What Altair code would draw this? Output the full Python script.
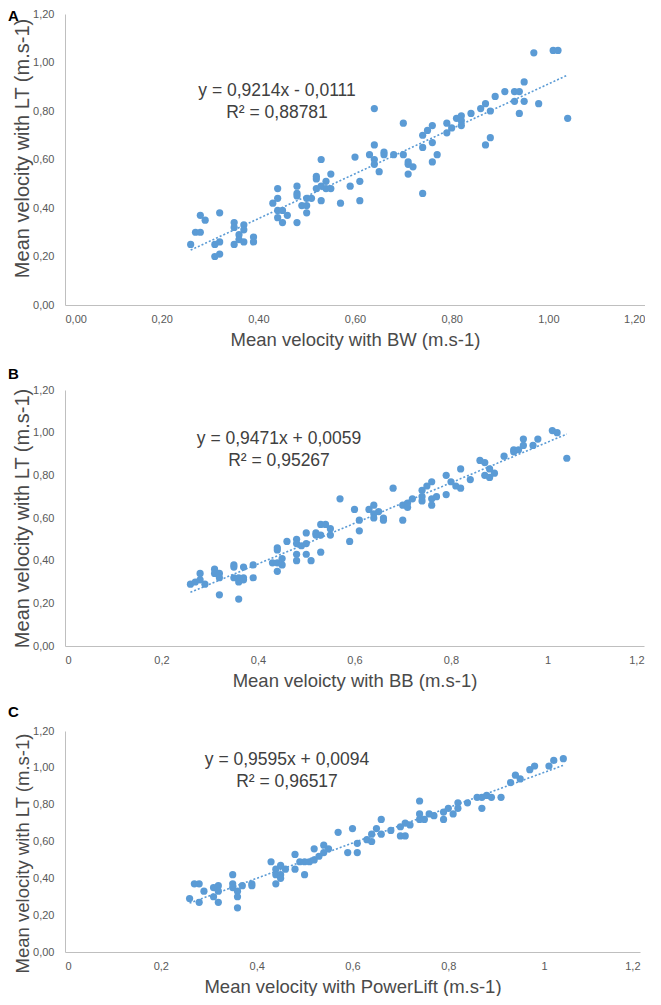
import altair as alt
import pandas as pd

BLUE = "#5B9BD5"
GREY = "#595959"
TITLE_GREY = "#4a4a4a"

# ---------------- Panel A: BW vs LT ----------------
a_x = [0.26, 0.27, 0.28, 0.28, 0.29, 0.31, 0.32, 0.31, 0.32, 0.32,
       0.35, 0.35, 0.35, 0.36, 0.36, 0.37, 0.37, 0.37, 0.39, 0.39,
       0.43, 0.44, 0.44, 0.44, 0.44, 0.45, 0.45, 0.46, 0.48, 0.48,
       0.48, 0.48, 0.49, 0.50, 0.50, 0.50, 0.51, 0.52, 0.52, 0.52,
       0.53, 0.53, 0.53, 0.54, 0.54, 0.55, 0.55, 0.57, 0.59, 0.60,
       0.61, 0.61, 0.63, 0.64, 0.64, 0.64, 0.64, 0.65, 0.66, 0.66,
       0.68, 0.70, 0.70, 0.71, 0.71, 0.71, 0.72, 0.74, 0.74, 0.74,
       0.75, 0.76, 0.76, 0.76, 0.77, 0.79, 0.79, 0.80, 0.81, 0.82,
       0.82, 0.82, 0.84, 0.86, 0.87, 0.87, 0.88, 0.88, 0.89, 0.91,
       0.93, 0.93, 0.94, 0.94, 0.95, 0.95, 0.97, 0.98, 1.01, 1.02,
       1.04]
a_y = [0.25, 0.30, 0.30, 0.37, 0.35, 0.20, 0.21, 0.25, 0.26, 0.38,
       0.34, 0.32, 0.25, 0.29, 0.27, 0.33, 0.31, 0.26, 0.28, 0.26,
       0.42, 0.48, 0.44, 0.39, 0.36, 0.39, 0.34, 0.37, 0.49, 0.46,
       0.45, 0.34, 0.41, 0.44, 0.41, 0.38, 0.44, 0.53, 0.52, 0.48,
       0.60, 0.49, 0.43, 0.51, 0.48, 0.54, 0.48, 0.42, 0.49, 0.61,
       0.51, 0.43, 0.62, 0.81, 0.66, 0.60, 0.58, 0.55, 0.63, 0.62,
       0.62, 0.75, 0.62, 0.59, 0.58, 0.54, 0.57, 0.70, 0.65, 0.46,
       0.72, 0.74, 0.67, 0.59, 0.62, 0.75, 0.71, 0.73, 0.77, 0.78,
       0.76, 0.74, 0.79, 0.81, 0.83, 0.66, 0.80, 0.69, 0.86, 0.88,
       0.88, 0.84, 0.88, 0.79, 0.92, 0.84, 1.04, 0.83, 1.05, 1.05,
       0.77]

# ---------------- Panel B: BB vs LT ----------------
b_x = [0.26, 0.27, 0.28, 0.28, 0.29, 0.31, 0.31, 0.32, 0.32, 0.32,
       0.35, 0.35, 0.35, 0.36, 0.36, 0.36, 0.37, 0.37, 0.37, 0.39,
       0.39, 0.43, 0.44, 0.44, 0.44, 0.44, 0.45, 0.45, 0.46, 0.48,
       0.48, 0.48, 0.48, 0.49, 0.50, 0.50, 0.50, 0.51, 0.52, 0.52,
       0.53, 0.53, 0.53, 0.54, 0.55, 0.55, 0.57, 0.59, 0.60, 0.61,
       0.61, 0.63, 0.64, 0.64, 0.64, 0.65, 0.66, 0.66, 0.68, 0.70,
       0.70, 0.71, 0.71, 0.72, 0.74, 0.74, 0.74, 0.75, 0.76, 0.76,
       0.76, 0.77, 0.79, 0.79, 0.80, 0.81, 0.82, 0.82, 0.84, 0.86,
       0.87, 0.87, 0.88, 0.88, 0.89, 0.91, 0.93, 0.93, 0.94, 0.95,
       0.95, 0.97, 0.98, 1.01, 1.02, 1.04]
b_y = [0.29, 0.30, 0.34, 0.31, 0.29, 0.36, 0.34, 0.34, 0.32, 0.24,
       0.38, 0.37, 0.32, 0.32, 0.30, 0.22, 0.37, 0.32, 0.31, 0.38,
       0.32, 0.39, 0.46, 0.45, 0.39, 0.35, 0.41, 0.38, 0.49, 0.50,
       0.48, 0.43, 0.40, 0.47, 0.53, 0.48, 0.43, 0.40, 0.53, 0.52,
       0.57, 0.52, 0.44, 0.57, 0.55, 0.52, 0.69, 0.49, 0.64, 0.59,
       0.54, 0.64, 0.66, 0.62, 0.60, 0.63, 0.60, 0.59, 0.74, 0.66,
       0.59, 0.67, 0.65, 0.69, 0.73, 0.70, 0.68, 0.75, 0.77, 0.69,
       0.66, 0.70, 0.80, 0.71, 0.77, 0.75, 0.83, 0.74, 0.78, 0.87,
       0.86, 0.80, 0.83, 0.79, 0.81, 0.89, 0.92, 0.91, 0.92, 0.97,
       0.94, 0.94, 0.97, 1.01, 1.00, 0.88]

# ---------------- Panel C: PowerLift vs LT ----------------
c_x = [0.26, 0.27, 0.28, 0.28, 0.29, 0.31, 0.31, 0.32, 0.32, 0.32,
       0.35, 0.35, 0.35, 0.36, 0.36, 0.36, 0.37, 0.39, 0.39, 0.43,
       0.44, 0.44, 0.44, 0.45, 0.45, 0.45, 0.46, 0.48, 0.48, 0.49,
       0.50, 0.50, 0.51, 0.52, 0.52, 0.53, 0.54, 0.54, 0.55, 0.57,
       0.59, 0.60, 0.61, 0.61, 0.63, 0.64, 0.64, 0.65, 0.66, 0.66,
       0.68, 0.70, 0.70, 0.71, 0.71, 0.72, 0.74, 0.74, 0.74, 0.75,
       0.76, 0.77, 0.79, 0.79, 0.80, 0.81, 0.82, 0.82, 0.84, 0.86,
       0.87, 0.87, 0.88, 0.89, 0.91, 0.93, 0.94, 0.95, 0.97, 0.98,
       1.01, 1.02, 1.04]
c_y = [0.29, 0.37, 0.37, 0.27, 0.33, 0.35, 0.30, 0.36, 0.33, 0.27,
       0.42, 0.37, 0.35, 0.33, 0.30, 0.24, 0.36, 0.37, 0.36, 0.49,
       0.45, 0.42, 0.37, 0.47, 0.42, 0.40, 0.45, 0.53, 0.45, 0.49,
       0.49, 0.42, 0.49, 0.56, 0.50, 0.52, 0.58, 0.54, 0.56, 0.65,
       0.54, 0.67, 0.59, 0.54, 0.61, 0.64, 0.60, 0.67, 0.72, 0.64,
       0.66, 0.68, 0.63, 0.70, 0.63, 0.69, 0.82, 0.75, 0.72, 0.72,
       0.75, 0.74, 0.76, 0.72, 0.78, 0.75, 0.81, 0.78, 0.81, 0.84,
       0.84, 0.78, 0.85, 0.84, 0.84, 0.92, 0.96, 0.94, 0.99, 1.01,
       1.01, 1.04, 1.05]

eq_a = ["y = 0,9214x - 0,0111", "R² = 0,88781"]
eq_b = ["y = 0,9471x + 0,0059", "R² = 0,95267"]
eq_c = ["y = 0,9595x + 0,0094", "R² = 0,96517"]

tick_vals = [0, 0.2, 0.4, 0.6, 0.8, 1.0, 1.2]

FONT = "Liberation Sans"


def panel(xs, ys, eq, letter, xtitle, xlabel_expr, w, h,
          eq_x, eq_y, let_y, ytitle_size, ytitle_y):
    df = pd.DataFrame({"x": xs, "y": ys})
    base = alt.Chart(df)
    xaxis = alt.Axis(values=tick_vals, tickCount=20, labelExpr=xlabel_expr,
                     grid=False, ticks=False, domainColor="#bfbfbf",
                     labelColor=GREY, labelFontSize=11, labelFont=FONT,
                     labelPadding=8, labelOverlap=False,
                     title=xtitle, titleFont=FONT, titleFontSize=18.5,
                     titleFontWeight="normal", titleColor=TITLE_GREY,
                     titlePadding=6)
    yaxis = alt.Axis(values=tick_vals, tickCount=20,
                     labelExpr="replace(format(datum.value, '.2f'), '.', ',')",
                     grid=False, ticks=False, domainColor="#bfbfbf",
                     labelColor=GREY, labelFontSize=11, labelFont=FONT,
                     labelPadding=11, labelOverlap=False,
                     title="Mean velocity with LT (m.s-1)",
                     titleFont=FONT, titleFontSize=ytitle_size,
                     titleFontWeight="normal", titleColor=TITLE_GREY,
                     titlePadding=0, titleY=ytitle_y)
    xs_ = alt.Scale(domain=[0, 1.2], nice=False)
    ys_ = alt.Scale(domain=[0, 1.2], nice=False)
    pts = base.mark_circle(size=52, color=BLUE, opacity=1).encode(
        x=alt.X("x:Q", scale=xs_, axis=xaxis),
        y=alt.Y("y:Q", scale=ys_, axis=yaxis),
    )
    trend = base.transform_regression("x", "y").mark_line(
        color=BLUE, strokeDash=[2, 2], strokeWidth=1.6
    ).encode(x=alt.X("x:Q", scale=xs_), y=alt.Y("y:Q", scale=ys_))
    ann = alt.Chart(pd.DataFrame({"k": [0]}))
    eqtext = ann.mark_text(
        text=eq, font=FONT, fontSize=17.5, color="#404040", align="center",
        baseline="middle", lineHeight=22
    ).encode(x=alt.value(eq_x), y=alt.value(eq_y))
    lab = ann.mark_text(
        text=letter, font=FONT, fontSize=15, fontWeight="bold",
        color="black", align="left", baseline="middle"
    ).encode(x=alt.value(-57), y=alt.value(let_y))
    return alt.layer(pts, trend, eqtext, lab).properties(width=w, height=h)


lbl2 = "replace(format(datum.value, '.2f'), '.', ',')"
lblg = "replace(format(datum.value, '~g'), '.', ',')"

pa = panel(a_x, a_y, eq_a, "A", "Mean velocity with BW (m.s-1)", lbl2,
           580, 291, 212, 77, 2, 20, 134)
pb = panel(b_x, b_y, eq_b, "B", "Mean veloicty with BB (m.s-1)", lblg,
           579, 256, 214, 49, -16, 20, 128)
pc = panel(c_x, c_y, eq_c, "C", "Mean velocity with PowerLift (m.s-1)", lblg,
           575, 221, 222, 29, -19, 18.5, 122)

chart = alt.vconcat(pa, pb, pc, spacing=85, bounds="flush").properties(
    padding=0, background="white"
).configure_view(stroke=None)

chart.save("out.html", embed_options={"renderer": "svg", "actions": False})
